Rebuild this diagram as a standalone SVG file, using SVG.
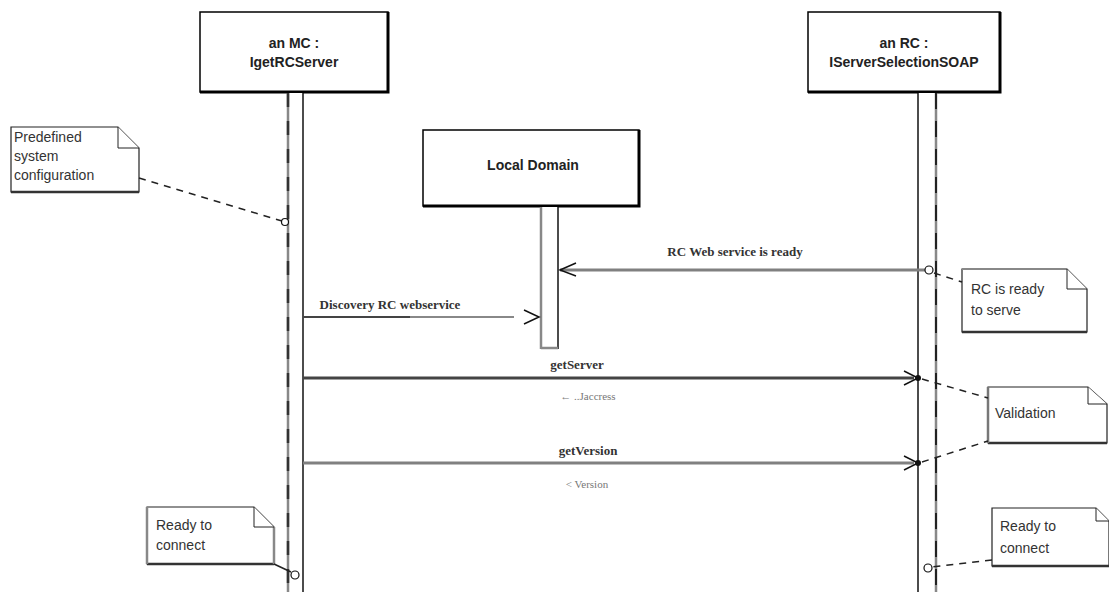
<svg xmlns="http://www.w3.org/2000/svg" width="1109" height="592" viewBox="0 0 1109 592">
  <style>
    .box { fill: #fff; stroke: #000; stroke-width: 1.5; }
    .shadow { stroke: #000; stroke-width: 3; fill: none; }
    .title { font-family: "Liberation Sans", Arial, sans-serif; font-size: 14px; font-weight: bold; fill: #222; text-anchor: middle; }
    .note { fill: #fff; stroke: #222; stroke-width: 1.2; }
    .noteShadow { stroke: #333; stroke-width: 2.5; fill: none; }
    .fold { fill: #fff; stroke: #222; stroke-width: 1; }
    .notetext { font-family: "Liberation Sans", Arial, sans-serif; font-size: 14px; fill: #333; }
    .msg { font-family: "Liberation Serif", "Times New Roman", serif; font-size: 13px; font-weight: bold; fill: #333; text-anchor: middle; }
    .ret { font-family: "Liberation Serif", "Times New Roman", serif; font-size: 11px; fill: #777; text-anchor: middle; }
    .bar { fill: #fff; stroke: none; }
    .edgeDark { stroke: #111; stroke-width: 1.5; }
    .edgeGray { stroke: #888; stroke-width: 2.5; }
    .dash { stroke: #222; stroke-width: 1.5; stroke-dasharray: 7 6; fill: none; }
    .head { stroke: #111; stroke-width: 1.5; fill: none; }
    .pin { fill: #fff; stroke: #111; stroke-width: 1.2; }
  </style>

  <!-- Participant: an MC -->
  <g id="mc">
    <rect class="box" x="200" y="12" width="188" height="80"/>
    <polyline class="shadow" points="200,92 388,92 388,12"/>
    <text class="title" x="294" y="48">an MC :</text>
    <text class="title" x="294" y="67">IgetRCServer</text>
    <rect class="bar" x="287" y="93" width="16" height="499"/>
    <line class="edgeGray" x1="288" y1="93" x2="288" y2="592"/>
    <line x1="288" y1="93" x2="288" y2="592" stroke="#333" stroke-width="2.5" stroke-dasharray="14 14"/>
    <line class="edgeDark" x1="303" y1="93" x2="303" y2="592"/>
  </g>

  <!-- Participant: an RC -->
  <g id="rc">
    <rect class="box" x="808" y="12" width="192" height="80"/>
    <polyline class="shadow" points="808,92 1000,92 1000,12"/>
    <text class="title" x="904" y="48">an RC :</text>
    <text class="title" x="904" y="67">IServerSelectionSOAP</text>
    <rect class="bar" x="918" y="93" width="18" height="499"/>
    <line class="edgeDark" x1="918" y1="93" x2="918" y2="592"/>
    <line class="edgeGray" x1="936" y1="93" x2="936" y2="592"/>
    <line x1="936" y1="93" x2="936" y2="592" stroke="#222" stroke-width="2" stroke-dasharray="16 12"/>
  </g>

  <!-- Participant: Local Domain -->
  <g id="local-domain">
    <rect class="box" x="423" y="130" width="216" height="76"/>
    <polyline class="shadow" points="423,206 639,206 639,130"/>
    <text class="title" x="533" y="170">Local Domain</text>
    <rect class="bar" x="541" y="207" width="17" height="142"/>
    <line class="edgeGray" x1="541" y1="207" x2="541" y2="349"/>
    <line class="edgeDark" x1="558" y1="207" x2="558" y2="349"/>
    <line class="edgeGray" x1="541" y1="348" x2="558" y2="348"/>
  </g>

  <!-- Notes -->
  <g id="note-predefined">
    <path class="note" d="M11,127 H118 L139,148 V192 H11 Z"/>
    <polyline class="noteShadow" points="11,192 139,192" stroke="#888"/>
    <path class="fold" d="M118,127 V148 H139"/>
    <text class="notetext" x="14" y="142">Predefined</text>
    <text class="notetext" x="14" y="161">system</text>
    <text class="notetext" x="14" y="180">configuration</text>
  </g>

  <g id="note-rc-ready">
    <path class="note" d="M962,269 H1067 L1087,289 V332 H962 Z"/>
    <line class="noteShadow" x1="962" y1="332" x2="1087" y2="332"/>
    <line x1="962" y1="269" x2="1067" y2="269" stroke="#888" stroke-width="2"/>
    <path class="fold" d="M1067,269 V289 H1087"/>
    <text class="notetext" x="971" y="294">RC is ready</text>
    <text class="notetext" x="971" y="315">to serve</text>
  </g>

  <g id="note-validation">
    <path class="note" d="M988,387 H1088 L1107,404 V443 H988 Z"/>
    <line class="noteShadow" x1="988" y1="443" x2="1107" y2="443"/>
    <line x1="988" y1="387" x2="988" y2="443" stroke="#777" stroke-width="2.5"/>
    <path class="fold" d="M1088,387 V404 H1107"/>
    <text class="notetext" x="995" y="418">Validation</text>
  </g>

  <g id="note-ready-left">
    <path class="note" d="M147,507 H254 L274,527 V564 H147 Z"/>
    <line class="noteShadow" x1="147" y1="564" x2="274" y2="564"/>
    <line x1="147" y1="507" x2="147" y2="564" stroke="#888" stroke-width="2.5"/>
    <line x1="274" y1="527" x2="274" y2="564" stroke="#888" stroke-width="2.5"/>
    <path class="fold" d="M254,507 V527 H274"/>
    <text class="notetext" x="156" y="530">Ready to</text>
    <text class="notetext" x="156" y="550">connect</text>
  </g>

  <g id="note-ready-right">
    <path class="note" d="M992,508 H1096 L1109,521 V566 H992 Z"/>
    <line class="noteShadow" x1="992" y1="566" x2="1109" y2="566"/>
    <path class="fold" d="M1096,508 V521 H1109"/>
    <text class="notetext" x="1000" y="531">Ready to</text>
    <text class="notetext" x="1000" y="553">connect</text>
  </g>

  <!-- Messages and note connectors -->
  <g id="connectors">
    <!-- RC Web service is ready -->
    <line x1="925" y1="270" x2="560" y2="270" stroke="#808080" stroke-width="3"/>
    <polyline class="head" points="576,263 560,270 576,276"/>
    <circle class="pin" cx="929" cy="270" r="4"/>
    <text class="msg" x="735" y="256">RC Web service is ready</text>

    <!-- Discovery RC webservice -->
    <line x1="303" y1="317" x2="410" y2="317" stroke="#444" stroke-width="2"/>
    <line x1="410" y1="317" x2="514" y2="317" stroke="#888" stroke-width="2"/>
    <polyline class="head" points="524,310 539,317 524,324"/>
    <text class="msg" x="390" y="309">Discovery RC webservice</text>

    <!-- getServer -->
    <line x1="303" y1="378" x2="914" y2="378" stroke="#444" stroke-width="3"/>
    <polyline class="head" points="904,371 918,378 904,385"/>
    <circle cx="918" cy="378" r="3" fill="#111"/>
    <text class="msg" x="577" y="369">getServer</text>
    <text class="ret" x="588" y="400">← ..Jaccress</text>

    <!-- getVersion -->
    <line x1="303" y1="463" x2="914" y2="463" stroke="#808080" stroke-width="3"/>
    <polyline class="head" points="904,456 918,463 904,470"/>
    <circle cx="918" cy="463" r="3" fill="#111"/>
    <text class="msg" x="588" y="455">getVersion</text>
    <text class="ret" x="587" y="488">&lt; Version</text>

    <!-- note anchors -->
    <line class="dash" x1="139" y1="178" x2="282" y2="221"/>
    <circle class="pin" cx="285" cy="222" r="3.5"/>
    <line class="dash" x1="934" y1="273" x2="962" y2="282"/>
    <line class="dash" x1="922" y1="379" x2="988" y2="398"/>
    <line class="dash" x1="922" y1="462" x2="988" y2="441"/>
    <line x1="274" y1="564" x2="291" y2="572" stroke="#222" stroke-width="1.5"/>
    <circle class="pin" cx="295" cy="575" r="4"/>
    <line class="dash" x1="992" y1="560" x2="932" y2="567"/>
    <circle class="pin" cx="928" cy="568" r="4"/>
  </g>
</svg>
